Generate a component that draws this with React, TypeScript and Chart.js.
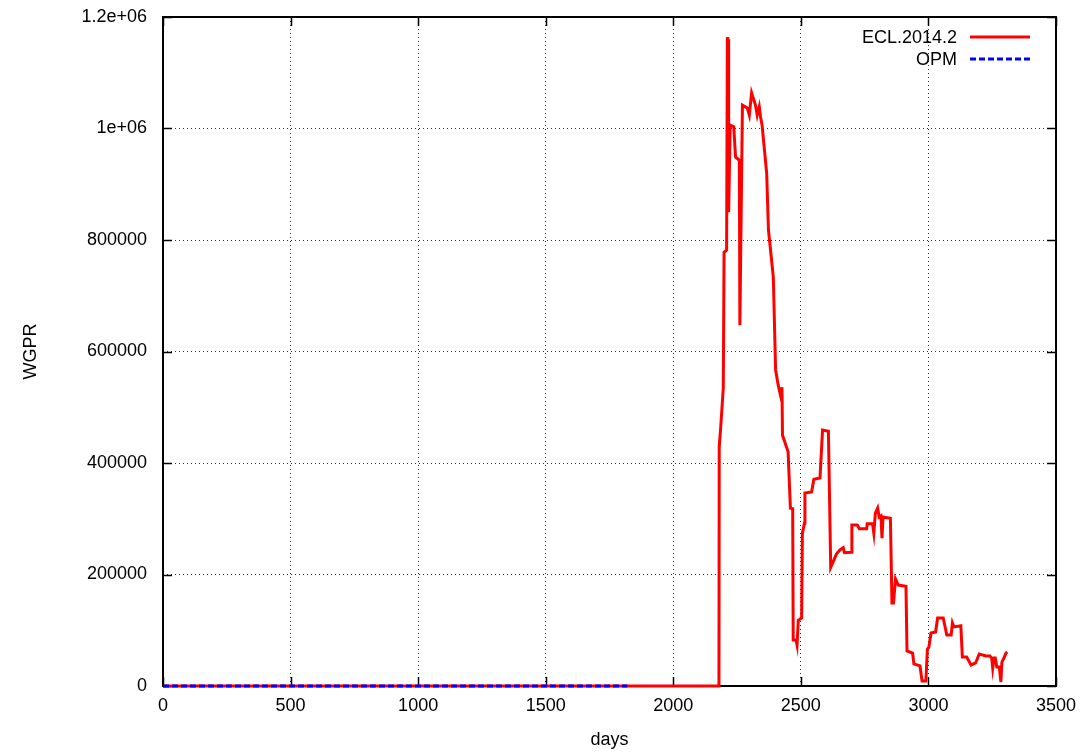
import React, { useEffect, useRef } from "react";
import { Chart, registerables } from "chart.js";

Chart.register(...registerables);

const eclDays = [
  0, 2179, 2180, 2186, 2196, 2199, 2209, 2212, 2214, 2215, 2217, 2223, 2237, 2244, 2259, 2261,
  2271, 2290, 2298, 2307, 2322, 2329, 2337, 2342, 2348, 2366, 2373, 2392, 2401, 2411, 2422,
  2426, 2428, 2450, 2459, 2468, 2470, 2481, 2485, 2490, 2503, 2506, 2514, 2516, 2542, 2551,
  2575, 2585, 2608, 2617, 2640, 2653, 2666, 2671, 2698, 2700, 2721, 2729, 2758, 2760, 2781,
  2786, 2792, 2801, 2807, 2814, 2818, 2822, 2851, 2857, 2863, 2871, 2882, 2912, 2916, 2938,
  2943, 2967, 2975, 2990, 2996, 3002, 3010, 3028, 3036, 3058, 3072, 3089, 3094, 3100, 3127,
  3133, 3150, 3167, 3185, 3199, 3226, 3241, 3248, 3252, 3257, 3262, 3268, 3278, 3284, 3288,
  3296, 3304, 3309,
];
const eclValues = [
  0, 0, 429000, 465000, 535000, 778000, 782000, 1164000, 860000, 1160000, 850000, 1006000,
  1003000, 949000, 943000, 647000, 1042000, 1037000, 1024000, 1064000, 1042000, 1024000,
  1039000, 1021000, 1006000, 920000, 818000, 734000, 567000, 540000, 518000, 536000, 450000,
  420000, 319000, 318000, 82500, 82500, 73500, 118000, 122000, 274000, 292000, 346000, 348000,
  371000, 373000, 459000, 457000, 213000, 237000, 244000, 248000, 239000, 240000, 289000,
  289000, 282000, 282000, 291000, 291000, 274000, 310000, 319000, 303000, 305000, 265000,
  303000, 301000, 149000, 149000, 192000, 181000, 179000, 63000, 59000, 39500, 36000, 9000,
  9000, 66000, 70000, 95000, 97000, 122000, 122000, 91500, 91500, 113000, 106000, 108000,
  52000, 52000, 37700, 41300, 57400, 53800, 53800, 50200, 32300, 50200, 50200, 34100, 34100,
  7200, 43000, 50200, 59200, 61000,
];
const opmDays = [0, 1820];
const opmValues = [0, 0];

const seriesLabels = ["ECL.2014.2", "OPM"];
const yTickValues = [0, 200000, 400000, 600000, 800000, 1000000, 1200000];
const yTickLabels = ["0", "200000", "400000", "600000", "800000", "1e+06", "1.2e+06"];
const xTitle = "days";
const yTitle = "WGPR";

const FONT = "'Liberation Sans', Arial, sans-serif";

const framePlugin = {
  id: "gnuFrame",
  beforeDatasetsDraw(chart: any) {
    const { ctx, chartArea } = chart;
    const { left, right, top, bottom } = chartArea;
    const xs = chart.scales.x;
    const ys = chart.scales.y;
    const tl = 9;
    ctx.save();
    ctx.strokeStyle = "#000";
    ctx.lineWidth = 1.5;
    ctx.setLineDash([]);
    ctx.beginPath();
    xs.ticks.forEach((t: any) => {
      const px = Math.round(xs.getPixelForValue(t.value)) + 0.5;
      ctx.moveTo(px, bottom);
      ctx.lineTo(px, bottom - tl);
      ctx.moveTo(px, top);
      ctx.lineTo(px, top + tl);
    });
    ys.ticks.forEach((t: any) => {
      const py = Math.round(ys.getPixelForValue(t.value)) + 0.5;
      ctx.moveTo(left, py);
      ctx.lineTo(left + tl, py);
      ctx.moveTo(right, py);
      ctx.lineTo(right - tl, py);
    });
    ctx.stroke();
    ctx.lineWidth = 2;
    ctx.strokeRect(left, top, right - left, bottom - top);
    ctx.restore();
  },
  afterDatasetsDraw(chart: any) {
    const { ctx, chartArea } = chart;
    const right = chartArea.right;
    const top = chartArea.top;
    ctx.save();
    ctx.font = `18px ${FONT}`;
    ctx.textAlign = "right";
    ctx.textBaseline = "middle";
    chart.data.datasets.forEach((ds: any, i: number) => {
      const y = top + 20 + i * 22;
      ctx.fillStyle = "#000";
      ctx.fillText(ds.label, right - 99, y + 1);
      ctx.strokeStyle = ds.borderColor;
      ctx.lineWidth = ds.borderWidth;
      ctx.setLineDash(ds.borderDash || []);
      ctx.beginPath();
      ctx.moveTo(right - 86, y);
      ctx.lineTo(right - 26, y);
      ctx.stroke();
    });
    ctx.restore();
  },
};

export default function App() {
  const ref = useRef<HTMLCanvasElement | null>(null);
  useEffect(() => {
    document.body.style.margin = "0";
    const canvas = ref.current;
    if (!canvas) return;
    const chart = new Chart(canvas, {
      type: "line",
      data: {
        datasets: [
          {
            label: seriesLabels[0],
            data: eclDays.map((d, i) => ({ x: d, y: eclValues[i] })),
            borderColor: "#ff0000",
            borderWidth: 3,
            pointRadius: 0,
            tension: 0,
            fill: false,
            clip: false as any,
            order: 1,
          },
          {
            label: seriesLabels[1],
            data: opmDays.map((d, i) => ({ x: d, y: opmValues[i] })),
            borderColor: "#0000ff",
            borderWidth: 3,
            borderDash: [6, 3],
            pointRadius: 0,
            tension: 0,
            fill: false,
            clip: false as any,
            order: 0,
          },
        ],
      },
      options: {
        responsive: false,
        animation: false,
        layout: { padding: { left: 0, right: 30, top: 17, bottom: 0 } },
        plugins: { legend: { display: false }, tooltip: { enabled: false } },
        scales: {
          x: {
            type: "linear",
            min: 0,
            max: 3500,
            border: { display: false, dash: [1, 3] },
            grid: { color: "rgba(0,0,0,0.8)", lineWidth: 1, drawTicks: false },
            ticks: {
              stepSize: 500,
              padding: 9,
              color: "#000",
              font: { family: FONT, size: 18 },
              maxRotation: 0,
              callback: (v: any) => String(v),
            },
            title: { display: true, text: xTitle, color: "#000", font: { family: FONT, size: 18 }, padding: { top: 0, bottom: 5 } },
            afterFit: (s: any) => {
              s.height = 70;
            },
          } as any,
          y: {
            type: "linear",
            min: 0,
            max: 1200000,
            border: { display: false, dash: [1, 3] },
            grid: { color: "rgba(0,0,0,0.8)", lineWidth: 1, drawTicks: false },
            afterBuildTicks: (s: any) => {
              s.ticks = yTickValues.map((v) => ({ value: v }));
            },
            ticks: {
              padding: 16,
              color: "#000",
              font: { family: FONT, size: 18 },
              callback: (v: any) => {
                const i = yTickValues.indexOf(v);
                return i >= 0 ? yTickLabels[i] : "";
              },
            },
            title: { display: true, text: yTitle, color: "#000", font: { family: FONT, size: 18 }, padding: { top: 20, bottom: 0 } },
            afterFit: (s: any) => {
              s.width = 163;
              s.paddingTop = 0;
              s.paddingBottom = 0;
            },
          } as any,
        },
      },
      plugins: [framePlugin],
    });
    return () => chart.destroy();
  }, []);
  return (
    <div style={{ position: "absolute", left: 0, top: 0, width: 1086, height: 756, background: "#fff" }}>
      <canvas ref={ref} width={1086} height={756} style={{ display: "block", width: 1086, height: 756 }} />
    </div>
  );
}
